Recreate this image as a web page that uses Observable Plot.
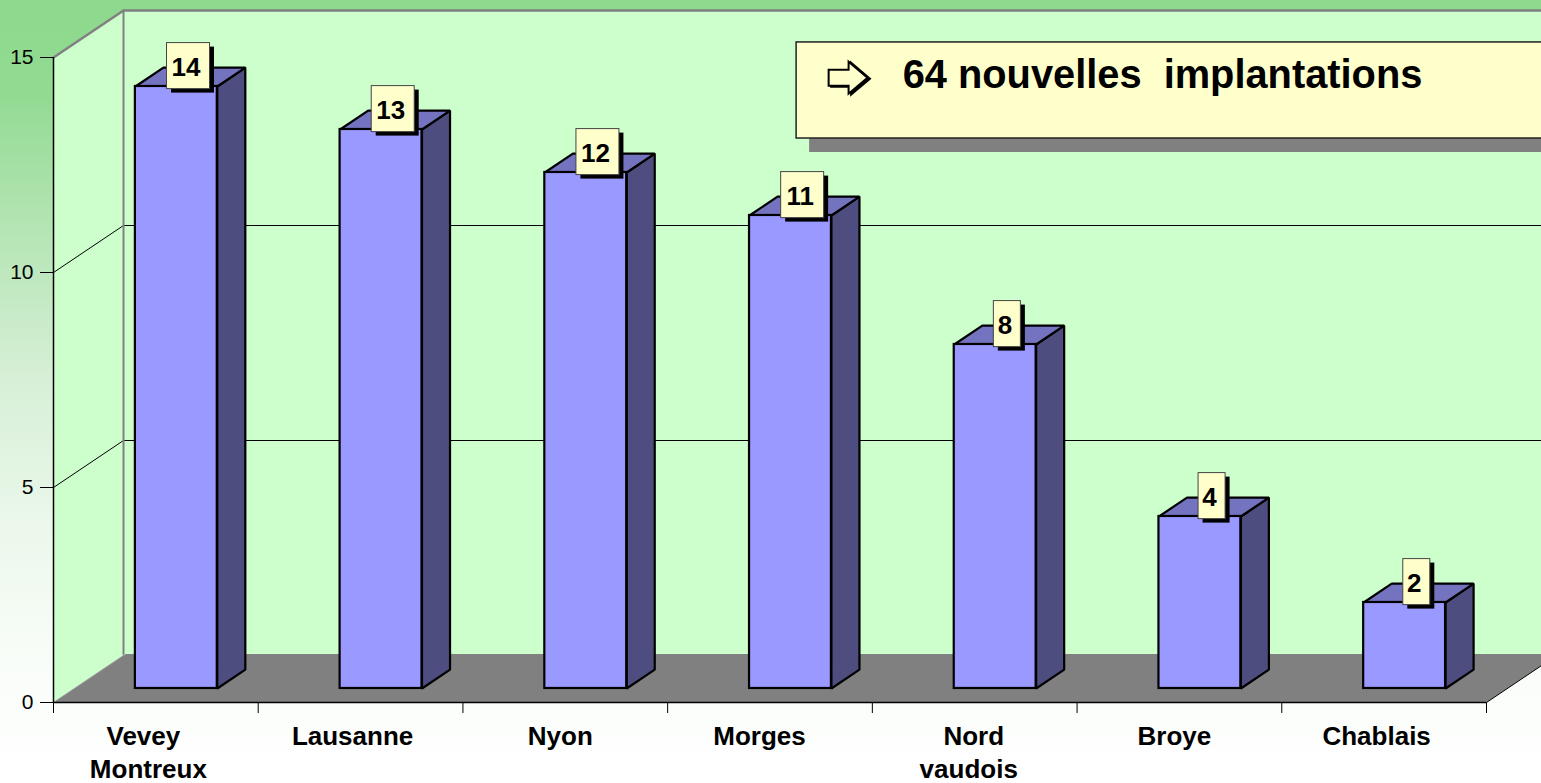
<!DOCTYPE html>
<html>
<head>
<meta charset="utf-8">
<script src="https://cdn.jsdelivr.net/npm/d3@7"></script>
<script src="https://cdn.jsdelivr.net/npm/@observablehq/plot@0.6"></script>
<style>
html,body{margin:0;padding:0;width:1541px;height:783px;overflow:hidden;
background:linear-gradient(to bottom,#8ed98e 0%,#92da92 12%,#b2e4b2 28%,#d6efd6 48%,#ecf8ec 68%,#f9fdf9 85%,#ffffff 100%);}
svg{display:block;background:transparent !important;max-width:none !important;}
</style>
</head>
<body>
<div id="chart"></div>
<script>
const categories = ["Vevey\nMontreux", "Lausanne", "Nyon", "Morges", "Nord\nvaudois", "Broye", "Chablais"];
const values = [14, 13, 12, 11, 8, 4, 2];
const yTicks = [0, 5, 10, 15];
const gridValues = [5, 10];
const callout = "64 nouvelles  implantations";

// 3-D projection expressed in scale units
const depthX = 0.342, depthY = 47 / 43;     // full floor depth
const floorBack = depthY + 1.5 / 43;
const barX0 = 0.40, barX1 = 0.80;           // bar front inside its slot
const barLift = 0.326, barDX = 0.137, barDY = 0.44;
const n = categories.length, xEnd = 8;
const slotPx = 1433 / 7;

// horizontal nudges of each label line, in pixels
const lineNudge = [[-12.5, -7.5], [-8], [-5], [-10.5], [-1, -6], [-5], [-7.5]];
const labelLines = categories.flatMap((c, i) => c.split("\n").map((text, k) => ({
  text, k, x: i + 0.5 + lineNudge[i][k] / slotPx
})));

const poly = (pts, fill, stroke = "black", strokeWidth = 2.2) =>
  Plot.line(pts, {x: "0", y: "1", fill, stroke, strokeWidth, curve: "linear-closed", strokeLinejoin: "miter"});
const seg = (pts, stroke, strokeWidth) =>
  Plot.line(pts, {x: "0", y: "1", stroke, strokeWidth});

const bars = values.map((v, i) => ({
  i, v, x0: i + barX0, x1: i + barX1, y0: barLift, y1: v + barLift,
  lx: i + 0.6595, ly: v + 0.80, hw: String(v).length > 1 ? 0.105 : 0.066
}));

const arrow = {
  draw(c, size) {
    const s = Math.sqrt(size / Math.PI);
    const p = [[-1, -0.38], [-0.05, -0.38], [-0.05, -0.76], [0.85, 0], [-0.05, 0.76], [-0.05, 0.38], [-1, 0.38]];
    p.forEach(([a, b], k) => k ? c.lineTo(a * s, b * s) : c.moveTo(a * s, b * s));
    c.closePath();
  }
};

const plot = Plot.plot({
  width: 1541, height: 783,
  marginLeft: 53, marginRight: 55, marginTop: 57, marginBottom: 81,
  x: {type: "linear", domain: [0, n], axis: null},
  y: {type: "linear", domain: [0, 15], axis: null},
  style: {fontFamily: "'Liberation Sans', Arial, sans-serif", background: "transparent", color: "black"},
  marks: [
    // back wall, side wall and floor
    poly([[depthX, depthY], [xEnd, depthY], [xEnd, 15 + depthY], [depthX, 15 + depthY]], "#ccffcc", "none", 0),
    poly([[0, 0], [depthX, depthY], [depthX, 15 + depthY], [0, 15]], "#ccffcc", "none", 0),
    poly([[0, 0], [n, 0], [n + depthX * floorBack / depthY, floorBack], [depthX * floorBack / depthY, floorBack]], "#808080", "none", 0),
    ...gridValues.map(v => seg([[0, v], [depthX, v + depthY], [xEnd, v + depthY]], "black", 1)),
    seg([[0, 15], [depthX, 15 + depthY], [xEnd, 15 + depthY]], "#808080", 2.5),
    seg([[depthX, 15 + depthY], [depthX, floorBack]], "#808080", 2),
    seg([[0, 0], [depthX, depthY]], "#999999", 1),
    seg([[n, 0], [n + depthX, depthY]], "black", 1),
    Plot.ruleX([0], {y1: 0, y2: 15, stroke: "black", strokeWidth: 1.5}),
    Plot.ruleY([0], {x1: 0, x2: n, stroke: "black", strokeWidth: 1.5}),
    Plot.axisY({ticks: yTicks, tickSize: 13, tickPadding: 7, fontSize: 21, label: null}),
    Plot.axisX({ticks: d3.range(n + 1), tickSize: 11, tickFormat: () => "", label: null}),
    // bars
    ...bars.flatMap(b => [
      poly([[b.x1, b.y0], [b.x1 + barDX, b.y0 + barDY], [b.x1 + barDX, b.y1 + barDY], [b.x1, b.y1]], "#4d4d80"),
      poly([[b.x0, b.y1], [b.x1, b.y1], [b.x1 + barDX, b.y1 + barDY], [b.x0 + barDX, b.y1 + barDY]], "#7373bf")
    ]),
    Plot.rect(bars, {x1: "x0", x2: "x1", y1: "y0", y2: "y1", fill: "#9999ff", stroke: "black", strokeWidth: 2.2}),
    // value labels
    Plot.rect(bars, {x1: b => b.lx - b.hw, x2: b => b.lx + b.hw, y1: b => b.ly - 0.535, y2: b => b.ly + 0.535, fill: "black", dx: 4.5, dy: 4}),
    Plot.rect(bars, {x1: b => b.lx - b.hw, x2: b => b.lx + b.hw, y1: b => b.ly - 0.535, y2: b => b.ly + 0.535, fill: "#ffffcc", stroke: "#444", strokeWidth: 1}),
    Plot.text(bars, {x: "lx", y: "ly", text: "v", fontSize: 26, fontWeight: "bold", fill: "black", dx: -2.5, dy: 2}),
    // category labels, one mark per line
    Plot.text(labelLines.filter(d => d.k === 0), {x: "x", y: 0, text: "text", fontSize: 26, fontWeight: "bold", fill: "black", lineAnchor: "top", dy: 24}),
    Plot.text(labelLines.filter(d => d.k === 1), {x: "x", y: 0, text: "text", fontSize: 26, fontWeight: "bold", fill: "black", lineAnchor: "top", dy: 57}),
    // callout
    Plot.rect([0], {x1: 3.63, x2: xEnd, y1: 13.116, y2: 15.35, fill: "#808080", dx: 13, dy: 14}),
    Plot.rect([0], {x1: 3.63, x2: xEnd, y1: 13.116, y2: 15.35, fill: "#ffffcc", stroke: "#222", strokeWidth: 1.5}),
    Plot.dot([0], {x: 3.889, y: 14.53, r: 21, symbol: arrow, fill: "black", stroke: "black", strokeWidth: 2, dx: 2.5, dy: 1}),
    Plot.dot([0], {x: 3.889, y: 14.53, r: 21, symbol: arrow, fill: "#ffffcc", stroke: "black", strokeWidth: 2}),
    Plot.text([callout], {x: 4.148, y: 14.28, text: d => d, fontSize: 39.8, fontWeight: "bold", fill: "black", textAnchor: "start", lineAnchor: "bottom"})
  ]
});
document.getElementById("chart").append(plot);
</script>
</body>
</html>
